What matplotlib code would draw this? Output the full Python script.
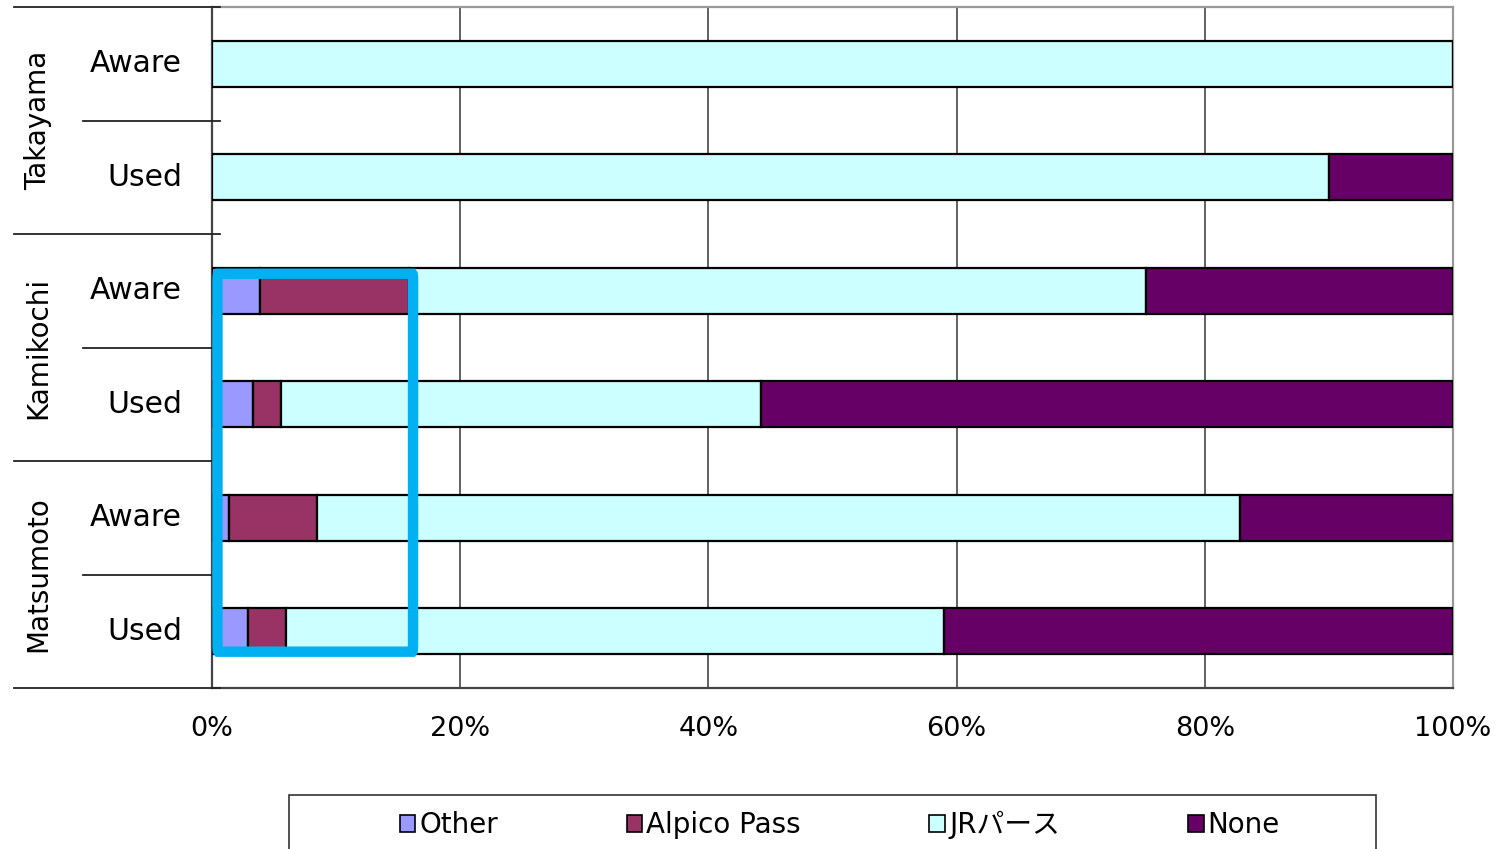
import matplotlib.pyplot as plt
from matplotlib.patches import Patch, FancyBboxPatch, Rectangle
import numpy as np

plt.rcParams['font.family'] = ['DejaVu Sans', 'Noto Sans CJK JP']

# rows from top to bottom
areas = ['Takayama', 'Kamikochi', 'Matsumoto']
rows = ['Aware', 'Used', 'Aware', 'Used', 'Aware', 'Used']

series = ['Other', 'Alpico Pass', 'JRパース', 'None']
colors = ['#9999FF', '#993366', '#CCFFFF', '#660066']

other = [0.0, 0.0, 3.9, 3.3, 1.4, 2.9]
alpico = [0.0, 0.0, 12.0, 2.3, 7.1, 3.1]
jr = [100.0, 90.0, 59.4, 38.6, 74.3, 53.0]
none = [0.0, 10.0, 24.7, 55.8, 17.2, 41.0]

ticks = [0, 20, 40, 60, 80, 100]
tick_labels = ['0%', '20%', '40%', '60%', '80%', '100%']

fig = plt.figure(figsize=(14.97, 8.49), dpi=100)
ax = fig.add_axes([212 / 1497, 1 - 688 / 849, 1241 / 1497, 681 / 849])

y = np.arange(len(rows))
left = np.zeros(len(rows))
for vals, col in zip([other, alpico, jr, none], colors):
    vals = np.array(vals)
    ax.barh(y, vals, left=left, height=0.405, color=col,
            edgecolor='black', linewidth=1.6, zorder=3)
    left += vals

ax.set_xlim(0, 100)
ax.set_ylim(len(rows) - 0.5, -0.5)
ax.set_xticks(ticks)
ax.set_xticklabels(tick_labels, fontsize=19.5)
ax.set_yticks([])
ax.tick_params(axis='x', length=0, pad=20)
ax.xaxis.grid(True, color='#555555', linewidth=1.3, zorder=0)
ax.set_axisbelow(True)
for s in ['top', 'right']:
    ax.spines[s].set_color('#999999')
    ax.spines[s].set_linewidth(1.6)
for s in ['left', 'bottom']:
    ax.spines[s].set_color('#444444')
    ax.spines[s].set_linewidth(1.6)

# category axis: row labels, group labels and separators
tr = ax.get_yaxis_transform()
for i, lab in enumerate(rows):
    ax.text(-0.024, i, lab, transform=tr, ha='right', va='center', fontsize=21.5)
for g, name in enumerate(areas):
    ax.text(-0.140, 2 * g + 0.5, name, transform=tr, ha='center', va='center',
            rotation=90, fontsize=20)
for b in np.arange(-0.5, len(rows), 1.0):
    x0 = -0.1596 if (b + 0.5) % 2 == 0 else -0.104
    ax.plot([x0, 0.0065], [b, b], transform=tr, color='#222222',
            linewidth=1.3, clip_on=False, zorder=4)

# highlight box around the small segments
box = FancyBboxPatch((0.44, 1.85), 16.2 - 0.44, 5.18 - 1.85,
                     boxstyle='round,pad=0,rounding_size=0.06',
                     fill=False, edgecolor='#00B0F0', linewidth=7.5,
                     zorder=5, clip_on=False, mutation_aspect=1)
ax.add_patch(box)

handles = [Patch(facecolor=c, edgecolor='black', linewidth=1.2) for c in colors]
leg = fig.legend(handles, series, loc='center left', ncol=4, mode='expand',
                 bbox_to_anchor=(400 / 1497, 1 - 825 / 849, 880 / 1497, 0.0),
                 fontsize=20, frameon=False, handlelength=0.55,
                 handleheight=0.55, handletextpad=0.15, borderpad=0.0,
                 borderaxespad=0.0, columnspacing=1.0)

# legend frame, running past the bottom edge
fig.patches.append(Rectangle((289 / 1497, -0.05), 1087 / 1497, 0.05 + 54 / 849,
                             transform=fig.transFigure, fill=False,
                             edgecolor='#333333', linewidth=1.2))

fig.savefig('out.png', dpi=100)
